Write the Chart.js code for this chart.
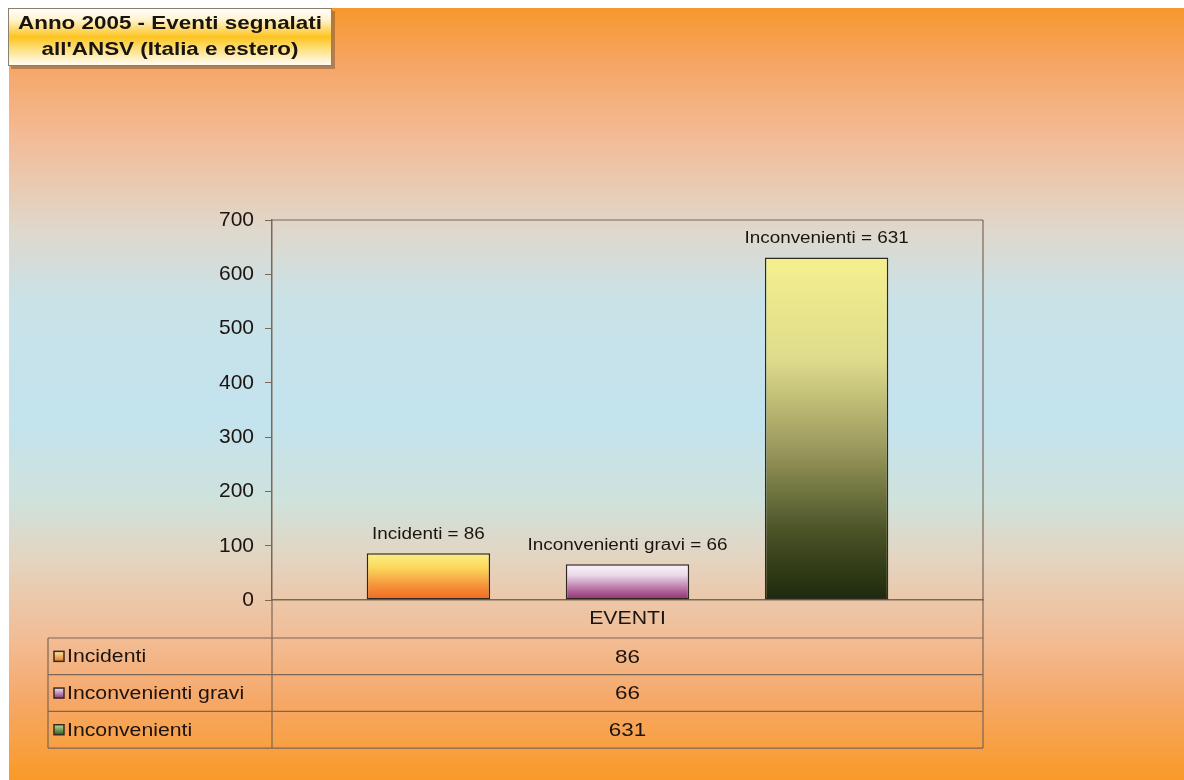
<!DOCTYPE html>
<html>
<head>
<meta charset="utf-8">
<script src="https://cdn.jsdelivr.net/npm/chart.js@4"></script>
<style>
  html, body { margin: 0; padding: 0; background: #fff; }
  #wrap { width: 1184px; height: 780px; }
</style>
</head>
<body>
<div id="wrap"><canvas id="chart" width="1184" height="780"></canvas></div>
<script>
const categories = ['EVENTI'];
const seriesNames = ['Incidenti', 'Inconvenienti gravi', 'Inconvenienti'];
const incidenti = [86];
const inconvenientiGravi = [66];
const inconvenienti = [631];
const yMax = 700;
const yStep = 100;
const titleLines = ['Anno 2005 - Eventi segnalati', "all'ANSV (Italia e estero)"];

const FONT = '"Liberation Sans", Arial, sans-serif';
const SX = 1.18; // the source text is drawn wide
const lineCol = '#7d6656';
const textCol = '#1c1410';

// bar fills, top -> bottom
const barStops = [
  [[0, '#fbef86'], [0.3, '#fbd95c'], [0.7, '#f6913a'], [1, '#f1681e']],
  [[0, '#fbf3fb'], [0.3, '#ecdaea'], [0.75, '#b0629a'], [1, '#8c2e70']],
  [[0, '#f5f08e'], [0.3, '#dedb8c'], [0.55, '#9d9b5e'], [0.8, '#4a5226'], [1, '#1c290c']]
];
const markerStops = [
  [[0, '#fde7a0'], [1, '#e0782a']],
  [[0, '#f0e6f6'], [1, '#8a3a7a']],
  [[0, '#b8e0a0'], [1, '#2e5a1a']]
];

function barFill(i) {
  return (ctx) => {
    const chart = ctx.chart;
    if (!chart.chartArea || ctx.raw === undefined) return barStops[i][0][1];
    const y = chart.scales.y;
    const g = chart.ctx.createLinearGradient(0, y.getPixelForValue(ctx.raw), 0, y.getPixelForValue(0));
    barStops[i].forEach(s => g.addColorStop(s[0], s[1]));
    return g;
  };
}

function wideText(c, txt, x, y, align) {
  c.save();
  c.translate(x, y);
  c.scale(SX, 1);
  c.textAlign = align;
  c.fillText(txt, 0, 0);
  c.restore();
}

const backdrop = {
  id: 'backdrop',
  beforeDraw(chart) {
    const c = chart.ctx;
    c.save();
    c.fillStyle = '#ffffff';
    c.fillRect(0, 0, chart.width, chart.height);
    const g = c.createLinearGradient(0, 8, 0, 780);
    const stops = [[8, '#f7982c'], [60, '#f6a462'], [140, '#f3bc98'], [230, '#dfd8cc'],
      [300, '#c9e2e8'], [420, '#c3e3ee'], [500, '#cfe2dc'], [560, '#e4d4c0'],
      [640, '#f2bc94'], [700, '#f6a868'], [780, '#f99a28']];
    stops.forEach(s => g.addColorStop((s[0] - 8) / 772, s[1]));
    c.fillStyle = g;
    c.fillRect(9, 8, chart.width - 9, chart.height - 8);

    // title box
    c.fillStyle = 'rgba(90,70,50,0.4)';
    c.fillRect(11, 11, 324, 58);
    const tg = c.createLinearGradient(0, 8, 0, 66);
    tg.addColorStop(0, '#ffffff');
    tg.addColorStop(0.2, '#fff4d0');
    tg.addColorStop(0.5, '#fcc420');
    tg.addColorStop(0.68, '#fddc70');
    tg.addColorStop(1, '#ffffff');
    c.fillStyle = tg;
    c.fillRect(8, 8, 324, 58);
    c.strokeStyle = '#8a8070';
    c.lineWidth = 1;
    c.strokeRect(8.5, 8.5, 323, 57);
    c.fillStyle = '#1a1410';
    c.font = 'bold 19px ' + FONT;
    c.textBaseline = 'middle';
    wideText(c, titleLines[0], 170, 24, 'center');
    wideText(c, titleLines[1], 170, 50, 'center');
    c.restore();
  }
};

const barLabels = {
  id: 'barLabels',
  afterDatasetsDraw(chart) {
    const c = chart.ctx;
    c.save();
    c.fillStyle = textCol;
    c.font = '16px ' + FONT;
    c.textBaseline = 'middle';
    chart.data.datasets.forEach((ds, i) => {
      const bar = chart.getDatasetMeta(i).data[0];
      wideText(c, ds.label + ' = ' + ds.data[0], bar.x, bar.y - 19, 'center');
    });
    c.restore();
  }
};

const dataTable = {
  id: 'dataTable',
  afterDraw(chart) {
    const c = chart.ctx;
    const a = chart.chartArea;
    const colX = chart.scales.x.getPixelForValue(0);
    const tableLeft = 48;
    const hdrBottom = a.bottom + 38;
    const rowH = 36.7;
    const tableBottom = hdrBottom + rowH * 3;
    c.save();
    c.strokeStyle = lineCol;
    c.lineWidth = 1.2;
    c.beginPath();
    // plot frame
    c.moveTo(a.left, a.top); c.lineTo(a.right, a.top);
    c.moveTo(a.right, a.top); c.lineTo(a.right, tableBottom);
    c.moveTo(a.left, a.bottom); c.lineTo(a.left, tableBottom);
    // table
    for (let r = 0; r <= 3; r++) {
      const y = hdrBottom + r * rowH;
      c.moveTo(tableLeft, y); c.lineTo(a.right, y);
    }
    c.moveTo(tableLeft, hdrBottom); c.lineTo(tableLeft, tableBottom);
    c.stroke();

    c.fillStyle = textCol;
    c.textBaseline = 'middle';
    c.font = '18px ' + FONT;
    wideText(c, categories[0], colX, a.bottom + 19, 'center');
    chart.data.datasets.forEach((ds, i) => {
      const yc = hdrBottom + rowH * i + rowH / 2;
      c.font = '19px ' + FONT;
      c.fillStyle = textCol;
      wideText(c, String(ds.data[0]), colX, yc + 1, 'center');
      c.font = '18px ' + FONT;
      wideText(c, ds.label, 67, yc + 1, 'left');
      const mg = c.createLinearGradient(0, yc - 5, 0, yc + 5);
      markerStops[i].forEach(s => mg.addColorStop(s[0], s[1]));
      c.fillStyle = mg;
      c.fillRect(54, yc - 5, 10, 10);
      c.strokeStyle = '#3a2a20';
      c.lineWidth = 1.5;
      c.strokeRect(54, yc - 5, 10, 10);
    });
    c.restore();
  }
};

const seriesData = [incidenti, inconvenientiGravi, inconvenienti];

new Chart(document.getElementById('chart'), {
  type: 'bar',
  data: {
    labels: categories,
    datasets: seriesNames.map((name, i) => ({
      label: name,
      data: seriesData[i],
      backgroundColor: barFill(i),
      borderColor: '#2e2a22',
      borderWidth: 1.5,
      borderSkipped: false,
      categoryPercentage: 0.84,
      barPercentage: 0.62
    }))
  },
  options: {
    responsive: false,
    animation: false,
    layout: { padding: { top: 220, right: 201, bottom: 180, left: 0 } },
    plugins: {
      legend: { display: false },
      title: { display: false },
      tooltip: { enabled: false }
    },
    scales: {
      x: {
        grid: { display: false },
        ticks: { display: false },
        border: { display: true, color: lineCol, width: 1.5 },
        afterFit: s => { s.height = 0; }
      },
      y: {
        min: 0,
        max: yMax,
        ticks: { stepSize: yStep, color: textCol, padding: 11, font: { size: 21, family: FONT } },
        grid: { display: true, drawOnChartArea: false, drawTicks: true, tickLength: 7, color: lineCol },
        border: { display: true, color: lineCol, width: 1.5 },
        afterFit: s => { s.width = 272; }
      }
    }
  },
  plugins: [backdrop, barLabels, dataTable]
});
</script>
</body>
</html>
